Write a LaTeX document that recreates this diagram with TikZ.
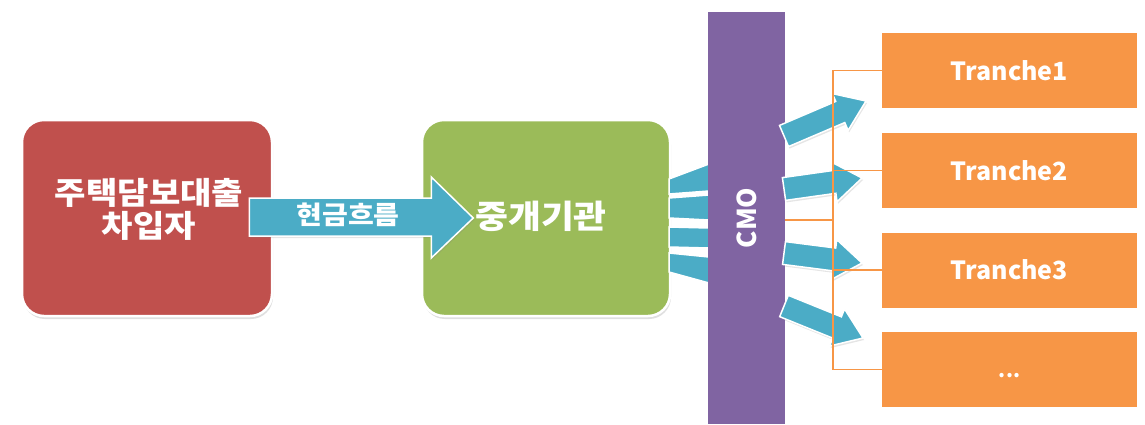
\documentclass[tikz,border=0pt]{standalone}
\usepackage{fontspec}
\setmainfont{Noto Sans CJK KR}
\newfontfamily\krwide{Noto Sans CJK KR}[FakeStretch=1.1]
\usetikzlibrary{calc,shadows}
\definecolor{cred}{HTML}{C0504D}
\definecolor{cgreen}{HTML}{9BBB59}
\definecolor{cpurple}{HTML}{8064A2}
\definecolor{cblue}{HTML}{4BACC6}
\definecolor{corange}{HTML}{F79646}
\newcommand\blkarr[3]{%
  \coordinate (#3c) at ($(#2)!28pt!(#1)$);
  \filldraw[bluearr] ($(#1)!11.5pt!90:(#2)$) -- ($(#3c)!11.5pt!90:(#2)$) -- ($(#3c)!20pt!90:(#2)$) -- (#2)
    -- ($(#3c)!20pt!-90:(#2)$) -- ($(#3c)!11.5pt!-90:(#2)$) -- ($(#1)!11.5pt!-90:(#2)$) -- cycle;}
\begin{document}
\begin{tikzpicture}[x=1pt,y=-1pt,
  bigbox/.style={rounded corners=22pt, draw=white, line width=2.5pt, minimum width=250pt, minimum height=196pt,
    drop shadow={shadow xshift=1pt, shadow yshift=-3pt, opacity=0.25}},
  boxlabel/.style={text=white, font=\krwide\bfseries\fontsize{31}{33}\selectfont, align=center},
  bluearr/.style={fill=cblue, draw=white, line width=1.5pt, line join=miter,
    drop shadow={shadow xshift=1pt, shadow yshift=-2pt, opacity=0.2}},
  band/.style={fill=cblue, draw=white, line width=1.5pt},
  tranche/.style={fill=corange, minimum width=255pt, minimum height=75pt, text=white,
    font=\bfseries\fontsize{25}{28}\selectfont},
  bracket/.style={draw=corange, line width=1.6pt}]
\fill[white] (0,0) rectangle (1145,424);
\useasboundingbox (0,0) rectangle (1145,424);
% boxes
\node[bigbox, fill=cred] (red) at (147,218) {};
\node[bigbox, fill=cgreen, minimum width=248pt] (green) at (546,218) {};
\node[boxlabel] (redlbl) at (149,209) {주택담보대출\\차입자};
% main arrow
\filldraw[bluearr] ($(red.east)+(-24,-20)$) -- ++(182,0) -- ++(0,-21) -- ++(42,41) -- ++(-42,40) -- ++(0,-22) -- ++(-182,0) -- cycle;
\node[text=white, font=\krwide\bfseries\fontsize{25.5}{28}\selectfont] (flow) at (348,215) {현금흐름};
\node[boxlabel, font=\krwide\bfseries\fontsize{32.5}{35}\selectfont] (greenlbl) at (541,216) {중개기관};
% fan bands green -> CMO
\filldraw[band] (669,179) -- (709,164) -- (709,191) -- (669,194) -- cycle;
\filldraw[band] (669,198) -- (709,195) -- (709,220) -- (669,218) -- cycle;
\filldraw[band] (669,227) -- (709,228) -- (709,248) -- (669,247) -- cycle;
\filldraw[band] (669,253) -- (709,257) -- (709,283) -- (669,272) -- cycle;
% CMO
\node[fill=cpurple, minimum width=77pt, minimum height=412pt, inner sep=0pt] (cmo) at (746.5,218) {};
\node[rotate=90, text=white, font=\bfseries\fontsize{26}{28}\selectfont] (cmolbl) at (747,218) {CMO};
% right arrows
\coordinate (a1) at (784,136); \coordinate (b1) at (866,101);
\coordinate (a2) at (784,189); \coordinate (b2) at (862,178);
\coordinate (a3) at (784,253); \coordinate (b3) at (862,263);
\coordinate (a4) at (784,306); \coordinate (b4) at (863,338);
\blkarr{a1}{b1}{h1}
\blkarr{a2}{b2}{h2}
\blkarr{a3}{b3}{h3}
\blkarr{a4}{b4}{h4}
% tranches
\node[tranche] (t1) at (1009.5,70.5) {Tranche1};
\node[tranche] (t2) at (1009.5,170.5) {Tranche2};
\node[tranche] (t3) at (1009.5,270) {Tranche3};
\node[tranche, font=\bfseries\fontsize{20}{22}\selectfont] (t4) at (1009.5,369.5) {\raisebox{-8pt}[0pt][0pt]{...}};
% bracket
\coordinate (bx) at (833,220);
\draw[bracket] (t1.west) -- (t1.west -| bx) -- (t4.west -| bx) -- (t4.west);
\draw[bracket] (t2.west) -- (t2.west -| bx);
\draw[bracket] (t3.west) -- (t3.west -| bx);
\draw[bracket] (cmo.east |- bx) -- (bx);
\end{tikzpicture}
\end{document}
